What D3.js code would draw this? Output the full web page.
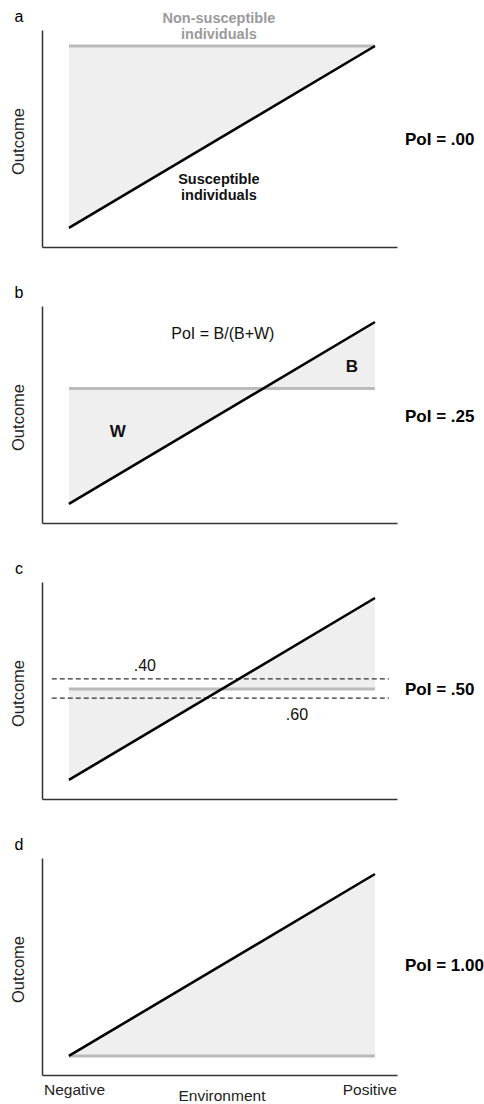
<!DOCTYPE html>
<html>
<head>
<meta charset="utf-8">
<script src="https://cdn.jsdelivr.net/npm/d3@7"></script>
<style>
  body { margin: 0; background: #fff; }
  svg text { font-family: "Liberation Sans", Arial, sans-serif; }
</style>
</head>
<body>
<div id="chart"></div>
<script>
// panels, one per PoI case
var panelLetters = ['a', 'b', 'c', 'd'];
var polLabels = ['PoI = .00', 'PoI = .25', 'PoI = .50', 'PoI = 1.00'];

// susceptible individuals: outcome at negative (0) and positive (1) environment
var susceptibleNeg = [0, 0, 0, 0];
var susceptiblePos = [1, 1, 1, 1];

// non-susceptible individuals: flat outcome level
var nonSusceptible = [1.0, 0.634, 0.5, 0.0];

// panel c: dashed reference levels and their labels
var dashLevels = [0.555, 0.45];
var dashLabels = ['.40', '.60'];

var envLabels = ['Negative', 'Positive'];

// text annotations in data units
var notes = [
  { p: 0, x: 0.49, y: 1.126, text: 'Non-susceptible', cls: 'gray' },
  { p: 0, x: 0.49, y: 1.038, text: 'individuals', cls: 'gray' },
  { p: 0, x: 0.49, y: 0.243, text: 'Susceptible', cls: 'bold' },
  { p: 0, x: 0.49, y: 0.155, text: 'individuals', cls: 'bold' },
  { p: 1, x: 0.503, y: 0.905, text: 'PoI = B/(B+W)', cls: 'plain' },
  { p: 1, x: 0.925, y: 0.725, text: 'B', cls: 'big' },
  { p: 1, x: 0.16, y: 0.37, text: 'W', cls: 'big' },
  { p: 2, x: 0.248, y: 0.598, text: dashLabels[0], cls: 'plain' },
  { p: 2, x: 0.745, y: 0.33, text: dashLabels[1], cls: 'plain' }
];

// layout
var W = 484, H = 1104;
var panelTop = 30, panelStep = 276, panelHeight = 217;
var polLabelY = [0.49, 0.485, 0.5, 0.5];

var svg = d3.select('#chart').append('svg')
  .attr('width', W)
  .attr('height', H);

var x = d3.scaleLinear().domain([-0.088, 1.072]).range([42, 397]);

var styles = {
  gray: { size: 14.5, weight: 'bold', fill: '#9a9a9a' },
  bold: { size: 14.5, weight: 'bold', fill: '#111' },
  plain: { size: 16, weight: 'normal', fill: '#111' },
  big: { size: 17, weight: 'bold', fill: '#111' }
};

panelLetters.forEach(function (letter, i) {
  var top = panelTop + i * panelStep;
  var y = d3.scaleLinear().domain([-0.105, 1.088]).range([top + panelHeight, top]);
  var g = svg.append('g');

  var pts = [
    { e: 0, s: susceptibleNeg[i], n: nonSusceptible[i] },
    { e: 1, s: susceptiblePos[i], n: nonSusceptible[i] }
  ];

  // shaded area between the two groups
  var area = d3.area()
    .x(function (d) { return x(d.e); })
    .y0(function (d) { return y(d.n); })
    .y1(function (d) { return y(d.s); });

  g.append('path')
    .datum(pts)
    .attr('d', area)
    .attr('fill', '#efefef');

  // non-susceptible line
  var nline = d3.line()
    .x(function (d) { return x(d.e); })
    .y(function (d) { return y(d.n); });
  g.append('path')
    .datum(pts)
    .attr('d', nline)
    .attr('fill', 'none')
    .attr('stroke', '#bbbbbb')
    .attr('stroke-width', 3);

  // dashed levels for panel c
  if (i === 2) {
    dashLevels.forEach(function (lv) {
      g.append('line')
        .attr('x1', x(-0.056))
        .attr('x2', x(1.046))
        .attr('y1', y(lv))
        .attr('y2', y(lv))
        .attr('stroke', '#333')
        .attr('stroke-width', 1.3)
        .attr('stroke-dasharray', '5,3');
    });
  }

  // susceptible line
  var sline = d3.line()
    .x(function (d) { return x(d.e); })
    .y(function (d) { return y(d.s); });
  g.append('path')
    .datum(pts)
    .attr('d', sline)
    .attr('fill', 'none')
    .attr('stroke', '#000')
    .attr('stroke-width', 2.6);

  // axes, no ticks
  g.append('g')
    .attr('transform', 'translate(0,' + (top + panelHeight) + ')')
    .call(d3.axisBottom(x).tickValues([]).tickSizeOuter(0))
    .select('.domain')
    .attr('stroke', '#333')
    .attr('stroke-width', 1.5);
  g.append('g')
    .attr('transform', 'translate(' + x(-0.088) + ',0)')
    .call(d3.axisLeft(y).tickValues([]).tickSizeOuter(0))
    .select('.domain')
    .attr('stroke', '#333')
    .attr('stroke-width', 1.5);

  // y label
  g.append('text')
    .attr('transform', 'translate(24,' + (top + panelHeight / 2 + 3) + ') rotate(-90)')
    .attr('text-anchor', 'middle')
    .style('font-size', '16.5px')
    .attr('fill', '#222')
    .text('Outcome');

  // panel letter
  g.append('text')
    .attr('x', 19)
    .attr('y', top - 8)
    .attr('text-anchor', 'middle')
    .style('font-size', '16px')
    .text(letter);

  // PoI label
  g.append('text')
    .attr('x', 405)
    .attr('y', y(polLabelY[i]))
    .attr('dy', '0.35em')
    .style('font-size', '17px')
    .style('font-weight', 'bold')
    .text(polLabels[i]);

  // annotations
  notes.filter(function (d) { return d.p === i; }).forEach(function (d) {
    var st = styles[d.cls];
    g.append('text')
      .attr('x', x(d.x))
      .attr('y', y(d.y))
      .attr('text-anchor', 'middle')
      .style('font-size', st.size + 'px')
      .style('font-weight', st.weight)
      .attr('fill', st.fill)
      .text(d.text);
  });

  // environment labels on last panel
  if (i === panelLetters.length - 1) {
    var by = top + panelHeight;
    g.append('text')
      .attr('x', x(-0.088) + 2)
      .attr('y', by + 20)
      .style('font-size', '15.5px')
      .attr('fill', '#222')
      .text(envLabels[0]);
    g.append('text')
      .attr('x', x(1.072))
      .attr('y', by + 20)
      .attr('text-anchor', 'end')
      .style('font-size', '15.5px')
      .attr('fill', '#222')
      .text(envLabels[1]);
    g.append('text')
      .attr('x', x(0.5))
      .attr('y', by + 26)
      .attr('text-anchor', 'middle')
      .style('font-size', '15.5px')
      .attr('fill', '#222')
      .text('Environment');
  }
});
</script>
</body>
</html>
